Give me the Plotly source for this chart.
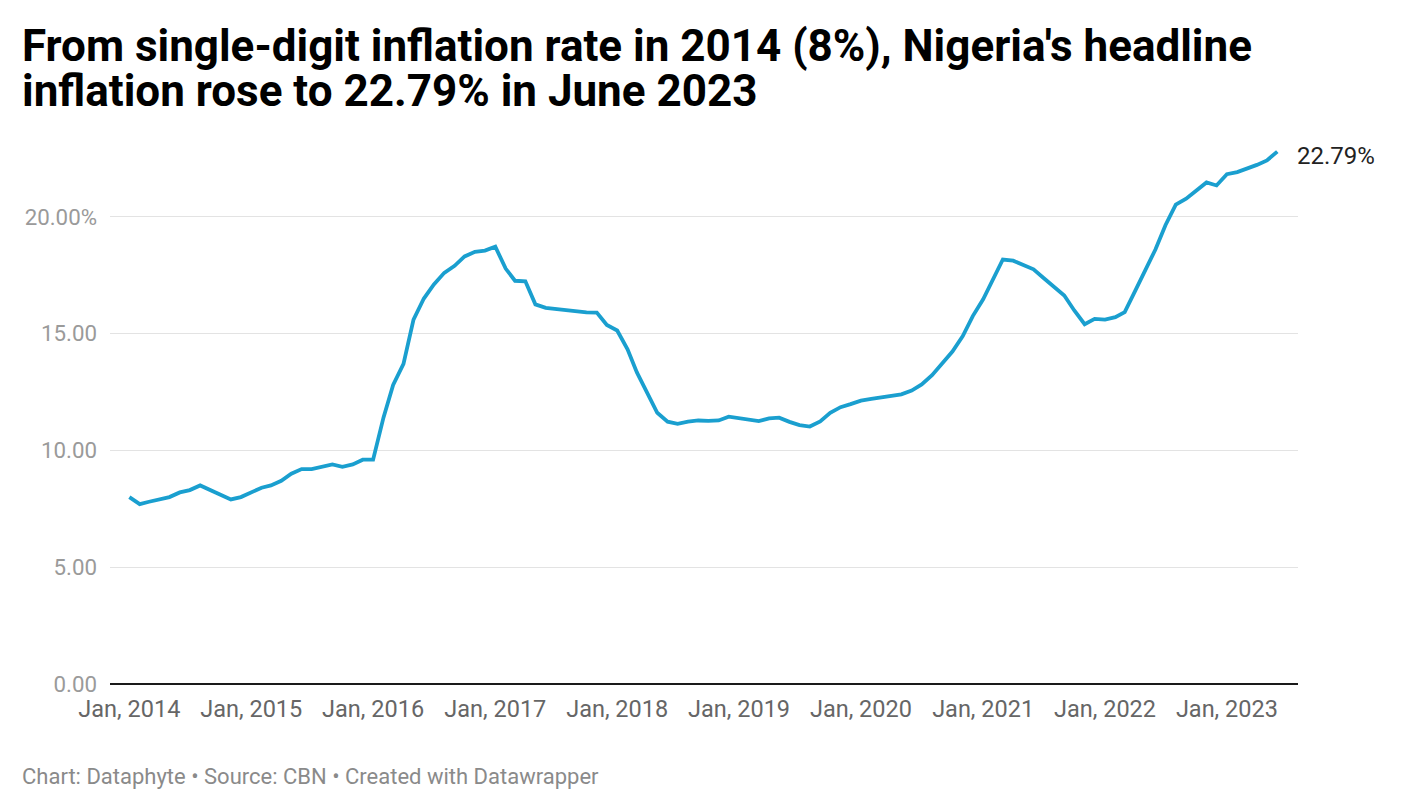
import plotly.graph_objects as go

years = list(range(2014, 2024))
inflation_2014 = [8.00, 7.70, 7.80, 7.90, 8.00, 8.20, 8.30, 8.50, 8.30, 8.10, 7.90, 8.00]
inflation_2015 = [8.20, 8.40, 8.50, 8.70, 9.00, 9.20, 9.20, 9.30, 9.40, 9.30, 9.40, 9.60]
inflation_2016 = [9.60, 11.40, 12.80, 13.70, 15.60, 16.50, 17.10, 17.60, 17.90, 18.30, 18.50, 18.55]
inflation_2017 = [18.72, 17.78, 17.26, 17.24, 16.25, 16.10, 16.05, 16.01, 15.98, 15.91, 15.90, 15.37]
inflation_2018 = [15.13, 14.33, 13.34, 12.48, 11.61, 11.23, 11.14, 11.23, 11.28, 11.26, 11.28, 11.44]
inflation_2019 = [11.37, 11.31, 11.25, 11.37, 11.40, 11.22, 11.08, 11.02, 11.24, 11.61, 11.85, 11.98]
inflation_2020 = [12.13, 12.20, 12.26, 12.34, 12.40, 12.56, 12.82, 13.22, 13.71, 14.23, 14.89, 15.75]
inflation_2021 = [16.47, 17.33, 18.17, 18.12, 17.93, 17.75, 17.38, 17.01, 16.63, 15.99, 15.40, 15.63]
inflation_2022 = [15.60, 15.70, 15.92, 16.82, 17.71, 18.60, 19.64, 20.52, 20.77, 21.09, 21.47, 21.34]
inflation_2023 = [21.82, 21.91, 22.04, 22.22, 22.41, 22.79]

series = [inflation_2014, inflation_2015, inflation_2016, inflation_2017, inflation_2018,
          inflation_2019, inflation_2020, inflation_2021, inflation_2022, inflation_2023]

dates = []
values = []
for y, vals in zip(years, series):
    for m, v in enumerate(vals, start=1):
        dates.append(f"{y}-{m:02d}-01")
        values.append(v)

x_tickvals = [f"{y}-01-01" for y in years]
x_ticktext = [f"Jan, {y}" for y in years]
y_tickvals = [0, 5, 10, 15, 20]
y_ticktext = ["0.00", "5.00", "10.00", "15.00", "20.00%"]

title_lines = ["From single-digit inflation rate in 2014 (8%), Nigeria's headline",
               "inflation rose to 22.79% in June 2023"]
footer_text = "Chart: Dataphyte • Source: CBN • Created with Datawrapper"
last_label = "22.79%"

W, H = 1416, 810
L, R, T, B = 110, 118, 142, 126
plot_w = W - L - R
plot_h = H - T - B


def px_x(xp):
    return (xp - L) / plot_w


def px_y(yp):
    return (H - B - yp) / plot_h


fig = go.Figure()
fig.add_trace(go.Scatter(
    x=dates, y=values, mode="lines",
    line=dict(color="#1a9fcf", width=3.8),
    hoverinfo="x+y", showlegend=False,
))

fig.add_annotation(
    x=dates[-1], y=values[-1], xref="x", yref="y",
    text=last_label, showarrow=False, xanchor="left", yanchor="middle",
    xshift=18, yshift=-4,
    font=dict(family="Roboto", size=24, color="#222222"),
)

for i, line in enumerate(title_lines):
    fig.add_annotation(
        x=px_x(20), y=px_y(46 + 45 * i), xref="paper", yref="paper",
        text=f"<b>{line}</b>", showarrow=False, xanchor="left", yanchor="middle",
        font=dict(family="Roboto", size=44, color="#000000"),
    )

fig.add_annotation(
    x=px_x(20), y=px_y(776), xref="paper", yref="paper",
    text=footer_text, showarrow=False, xanchor="left", yanchor="middle",
    font=dict(family="Roboto", size=22, color="#8a8a8a"),
)

fig.update_layout(
    width=W, height=H,
    margin=dict(l=L, r=R, t=T, b=B),
    paper_bgcolor="white", plot_bgcolor="white",
    font=dict(family="Roboto"),
    xaxis=dict(
        type="date", range=["2013-11-04", "2023-08-02"],
        tickmode="array", tickvals=x_tickvals, ticktext=x_ticktext,
        showgrid=False, zeroline=False, showline=False,
        ticks="", tickfont=dict(family="Roboto", size=23.5, color="#666666"),
        ticklabelstandoff=8,
    ),
    yaxis=dict(
        range=[0, 23.2], tickmode="array", tickvals=y_tickvals, ticktext=y_ticktext,
        showgrid=True, gridcolor="#e3e3e3", gridwidth=1,
        zeroline=True, zerolinecolor="#1a1a1a", zerolinewidth=2,
        showline=False, ticks="",
        tickfont=dict(family="Roboto", size=22.3, color="#9a9a9a"),
        ticklabelstandoff=12,
    ),
)

fig.write_html("out.html")
